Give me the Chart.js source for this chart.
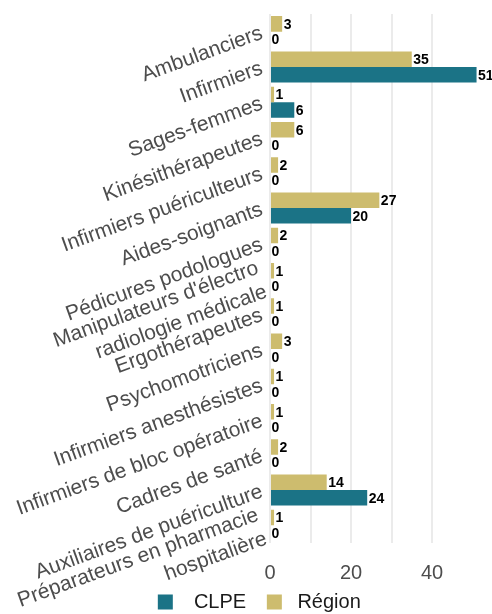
<!DOCTYPE html>
<html>
<head>
<meta charset="utf-8">
<script src="https://cdn.jsdelivr.net/npm/chart.js@4"></script>
<style>
    html, body { margin: 0; padding: 0; background: #ffffff; }
    #wrap { width: 492px; height: 614px; }
</style>
</head>
<body>
<div id="wrap"><canvas id="chart" width="492" height="614"></canvas></div>
<script>
// Professions, top to bottom
const categories = [
    'Ambulanciers',
    'Infirmiers',
    'Sages-femmes',
    'Kinésithérapeutes',
    'Infirmiers puériculteurs',
    'Aides-soignants',
    'Pédicures podologues',
    ["Manipulateurs d'électro", 'radiologie médicale'],
    'Ergothérapeutes',
    'Psychomotriciens',
    'Infirmiers anesthésistes',
    'Infirmiers de bloc opératoire',
    'Cadres de santé',
    'Auxiliaires de puériculture',
    ['Préparateurs en pharmacie', 'hospitalière'],
];

const regionValues = [3, 35, 1, 6, 2, 27, 2, 1, 1, 3, 1, 1, 2, 14, 1];
const clpeValues = [0, 51, 6, 0, 0, 20, 0, 0, 0, 0, 0, 0, 0, 24, 0];

const xTickLabels = [0, 20, 40];

const COLORS = {
    region: '#cdbc6e',
    clpe: '#1b7386',
    grid: '#ebebeb',
    axisText: '#4d4d4d',
    legendText: '#1a1a1a',
    valueText: '#000000',
};

const FONT = "'Liberation Sans', Arial, sans-serif";

// Writes each bar's value just past its end
const valueLabels = {
    id: 'valueLabels',
    afterDatasetsDraw(chart) {
        const ctx = chart.ctx;
        ctx.save();
        ctx.font = 'bold 14px ' + FONT;
        ctx.fillStyle = COLORS.valueText;
        ctx.textAlign = 'left';
        ctx.textBaseline = 'middle';
        chart.data.datasets.forEach((ds, i) => {
            const meta = chart.getDatasetMeta(i);
            meta.data.forEach((bar, j) => {
                ctx.fillText(String(ds.data[j]), bar.x + 1.5, bar.y + 1);
            });
        });
        ctx.restore();
    }
};

// Nudge the legend a little to the right of the canvas centre
const legendShift = {
    id: 'legendShift',
    afterLayout(chart) {
        const lg = chart.legend;
        if (!lg) return;
        lg.left += 19;
        lg.right += 19;
    }
};

new Chart(document.getElementById('chart').getContext('2d'), {
    type: 'bar',
    data: {
        labels: categories,
        datasets: [
            {
                label: ' Région',
                data: regionValues,
                backgroundColor: COLORS.region,
                borderWidth: 0,
                categoryPercentage: 0.88,
                barPercentage: 1.0,
            },
            {
                label: '  CLPE   ',
                data: clpeValues,
                backgroundColor: COLORS.clpe,
                borderWidth: 0,
                categoryPercentage: 0.88,
                barPercentage: 1.0,
            }
        ]
    },
    plugins: [valueLabels, legendShift],
    options: {
        indexAxis: 'y',
        responsive: false,
        animation: false,
        layout: {
            padding: { top: 14, right: 11.4, bottom: -8, left: 0 }
        },
        plugins: {
            legend: {
                position: 'bottom',
                reverse: true,
                labels: {
                    boxWidth: 15,
                    boxHeight: 15,
                    padding: 4,
                    color: COLORS.legendText,
                    font: { family: FONT, size: 20 },
                }
            },
            tooltip: { enabled: false },
        },
        scales: {
            x: {
                min: 0,
                max: 52,
                border: { display: false },
                grid: {
                    color: COLORS.grid,
                    lineWidth: 2,
                    drawTicks: false,
                },
                ticks: {
                    stepSize: 10,
                    padding: 18,
                    color: COLORS.axisText,
                    font: { family: FONT, size: 20 },
                    maxRotation: 0,
                    callback: (v) => xTickLabels.includes(v) ? String(v) : '',
                },
                afterBuildTicks: (scale) => {
                    scale.ticks = scale.ticks.filter(t => t.value % 10 === 0);
                },
                afterFit: (scale) => { scale.height = 45; },
            },
            y: {
                border: { display: false },
                grid: { display: false, drawTicks: false },
                ticks: {
                    color: COLORS.axisText,
                    font: { family: FONT, size: 21, lineHeight: 1.2 },
                    minRotation: 20,
                    maxRotation: 20,
                    padding: 8,
                    labelOffset: 1,
                    autoSkip: false,
                },
                afterFit: (scale) => {
                    // rotated labels may overflow the plot edges
                    scale.width = 270;
                    scale.paddingTop = 0;
                    scale.paddingBottom = 0;
                },
            }
        }
    }
});
</script>
</body>
</html>
